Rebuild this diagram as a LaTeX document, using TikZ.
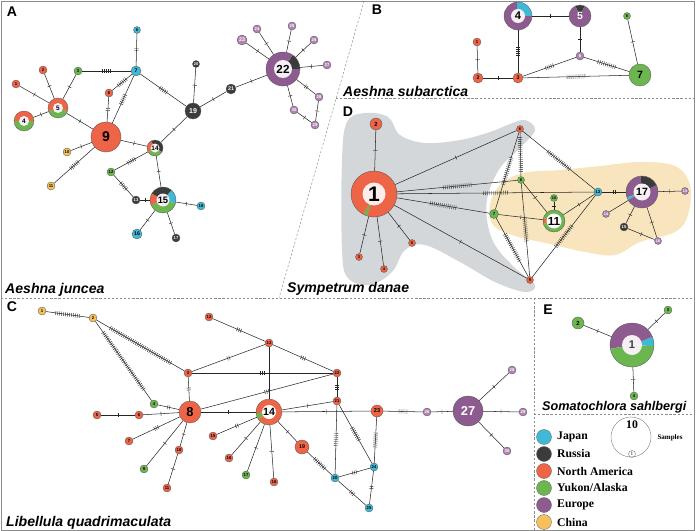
\documentclass[tikz,border=0pt]{standalone}
\usepackage{fontspec}
\setmainfont{Liberation Sans}
\newfontfamily\legfont{Liberation Serif}
\usetikzlibrary{decorations.markings,positioning}

\definecolor{japan}{HTML}{3FBAD6}
\definecolor{russia}{HTML}{3B3B3B}
\definecolor{namer}{HTML}{EE6446}
\definecolor{yukon}{HTML}{6BB64F}
\definecolor{europe}{HTML}{8E5B91}
\definecolor{eulight}{HTML}{B084B1}
\definecolor{china}{HTML}{F6C15A}
\definecolor{blobgray}{HTML}{D4D7D9}
\definecolor{blobsand}{HTML}{F8E5BD}
\definecolor{innerlt}{HTML}{F6F0F4}

\tikzset{
  hap/.style={circle,draw=black!65,line width=0.3pt,inner sep=0pt,minimum size=#1*0.06cm},
  hs/.style={hap=4,fs=3.6},
  fs/.style={font=\fontsize{#1}{#1}\selectfont\bfseries},
  ring/.style={circle,fill=innerlt,inner sep=0pt,minimum size=#1*0.06cm},
  mut/.style={postaction={decorate,decoration={markings,mark=at position 0.5 with {%
      \foreach \k in {1,...,#1}{\draw[black!85,line width=0.35pt] ({(\k-(#1+1)/2)*1.7pt},-1.8pt) -- ++(0,3.6pt);}}}}},
  ttl/.style={font=\fontsize{12}{12}\selectfont\bfseries\itshape,anchor=west,inner sep=0pt},
  panel/.style={font=\fontsize{12}{12}\selectfont\bfseries,inner sep=0pt},
  divider/.style={draw=black!45,line width=0.4pt,dash pattern=on 2pt off 1.5pt},
  legdot/.style={circle,draw=black!60,line width=0.3pt,minimum size=15*0.03cm,inner sep=0pt},
  legtxt/.style={font=\legfont\fontsize{10}{10}\selectfont\bfseries,inner sep=0pt},
}

% pie node: name, position, radius (px), slices a/b/colour, label style, label
\newcommand{\pienode}[6]{%
  \foreach \a/\b/\c in {#4}{\fill[fill=\c] #2 -- ++(\a:#3) arc[start angle=\a,end angle=\b,radius=#3] -- cycle;}
  \node[hap=#3] (#1) at #2 {};
  \node[#5] at #2 {#6};
}

\begin{document}
\begin{tikzpicture}[x=0.03cm,y=0.03cm,
                    every edge/.style={draw=black!85,line width=0.45pt}]
  \useasboundingbox (0,0) rectangle (696,-531);

  % frame and dividers
  \draw[black!45,line width=0.8pt] (1,-1) rectangle (694,-530);
  \draw[divider] (364,-1) -- (279,-298);
  \draw[divider] (336,-98) -- (694,-98);
  \draw[divider] (1,-298) -- (694,-298);
  \draw[divider] (534,-298) -- (534,-530);
  \draw[divider] (534,-414) -- (694,-414);

  % blobs of panel D
  \fill[blobgray] plot[smooth cycle,tension=0.6] coordinates {(347,-122) (365,-113) (388,-117) (400,-135) (425,-143) (460,-140) (490,-132) (510,-124) (525,-120) (535,-130) (520,-148) (500,-168) (488,-195) (487,-220) (495,-245) (515,-268) (535,-285) (525,-292) (495,-282) (460,-262) (425,-245) (405,-250) (392,-272) (370,-285) (348,-278) (342,-250) (342,-160)};
  \fill[blobsand] plot[smooth cycle,tension=0.6] coordinates {(490,-205) (500,-185) (523,-173) (560,-170) (600,-166) (640,-162) (675,-166) (690,-185) (688,-215) (675,-232) (640,-242) (615,-255) (585,-252) (550,-244) (515,-236) (493,-225)};

  % panel letters and titles
  \node[panel] at (12,-12) {A};
  \node[panel] at (377,-10) {B};
  \node[panel] at (348,-112) {D};
  \node[panel] at (12,-307) {C};
  \node[panel] at (548,-310) {E};
  \node[ttl] at (5,-290) {Aeshna juncea};
  \node[ttl] at (343,-91) {Aeshna subarctica};
  \node[ttl] at (287,-289) {Sympetrum danae};
  \node[ttl] at (6,-523) {Libellula quadrimaculata};
  \node[ttl,font=\fontsize{10.8}{10.8}\selectfont\bfseries\itshape] at (542,-407) {Somatochlora sahlbergi};

  % panel A
  \node[hs,fill=namer] (A1) at (16,-84) {1};
  \node[hs,fill=namer] (A2) at (43,-70) {2};
  \node[hs,fill=yukon] (A3) at (78,-71) {3};
  \pienode{A4}{(24,-121)}{10}{0/180/namer,180/360/yukon}{ring=5,fs=5.5}{4}
  \pienode{A5}{(58,-108)}{10}{-20/200/namer,200/340/yukon}{ring=5,fs=5.5}{5}
  \node[hs,fill=namer] (A6) at (109,-93) {6};
  \node[hap=5,fill=japan,fs=4.5] (A7) at (136,-71) {7};
  \node[hap=3.5,fill=japan,fs=3.4] (A8) at (137,-30) {8};
  \node[hap=15,fill=namer,fs=12] (A9) at (106,-137) {9};
  \node[hs,fill=china] (A10) at (67,-152) {10};
  \node[hs,fill=china] (A11) at (51,-186) {11};
  \node[hs,fill=yukon] (A12) at (111,-172) {12};
  \node[hs,fill=russia,text=white] (A13) at (136,-200) {13};
  \pienode{A14}{(155,-148)}{8}{-30/120/russia,120/210/namer,210/330/yukon}{ring=4.5,fs=5.5}{14}
  \pienode{A15}{(163,-200)}{13}{-15/50/japan,50/150/russia,150/205/namer,205/345/yukon}{ring=6.5,fs=8}{15}
  \node[hap=5,fill=japan,fs=4.5] (A16) at (137,-234) {16};
  \node[hs,fill=russia,text=white] (A17) at (176,-238) {17};
  \node[hs,fill=japan] (A18) at (201,-206) {18};
  \node[hap=8,fill=russia,text=white,fs=6] (A19) at (193,-111) {19};
  \node[hap=3.5,fill=russia,text=white,fs=3.4] (A20) at (196,-64) {20};
  \node[hap=5,fill=russia,text=white,fs=4.5] (A21) at (231,-89) {21};
  \pienode{A22}{(283,-69)}{17}{0/55/russia,55/360/europe}{ring=9,fs=10}{22}
  \node[hap=5,fill=eulight,text=white,fs=4.5] (A23) at (242,-40) {23};
  \node[hs,fill=eulight,text=white] (A24) at (257,-29) {24};
  \node[hs,fill=eulight,text=white] (A25) at (292,-26) {25};
  \node[hs,fill=eulight,text=white] (A26) at (314,-40) {26};
  \node[hs,fill=eulight,text=white] (A27) at (327,-65) {27};
  \node[hs,fill=eulight,text=white] (A28) at (319,-97) {28};
  \node[hs,fill=eulight,text=white] (A29) at (315,-125) {29};
  \node[hs,fill=eulight,text=white] (A30) at (294,-110) {30};

  \path (A7) edge[mut=2] (A8) edge[mut=5] (A3) edge[mut=6] (A6) edge[mut=6] (A9) edge[mut=5] (A19);
  \path (A5) edge[mut=1] (A1) edge[mut=1] (A2) edge[mut=1] (A3) edge[mut=1] (A4) edge[mut=1] (A9);
  \path (A9) edge[mut=2] (A6) edge[mut=1] (A10) edge[mut=6] (A11) edge[mut=1] (A14);
  \path (A14) edge[mut=1] (A19) edge[mut=5] (A12) edge[mut=1] (A15);
  \path (A12) edge[mut=5] (A13);
  \path (A15) edge[mut=1] (A13) edge[mut=1] (A16) edge[mut=1] (A17) edge[mut=1] (A18);
  \path (A19) edge[mut=1] (A20) edge[mut=1] (A21);
  \path (A22) edge[mut=1] (A21) edge[mut=1] (A23) edge[mut=1] (A24) edge[mut=1] (A25)
              edge[mut=1] (A26) edge[mut=1] (A27) edge[mut=2] (A28) edge[mut=1] (A30);
  \path (A29) edge[mut=1] (A28) edge[mut=1] (A30);

  % panel B
  \node[hs,fill=namer] (B1) at (477,-42) {1};
  \node[hap=5,fill=namer,fs=4.5] (B2) at (478,-78) {2};
  \node[hap=5,fill=namer,fs=4.5] (B3) at (518,-78) {3};
  \pienode{B4}{(518,-16)}{14}{0/95/japan,95/360/europe}{ring=7,fs=9.5}{4}
  \pienode{B5}{(580,-16)}{11}{65/115/russia,115/425/europe}{fs=9,text=white}{5}
  \node[hs,fill=eulight,text=white] (B6) at (580,-56) {6};
  \node[hap=11,fill=yukon,fs=9] (B7) at (640,-75) {7};
  \node[hap=3.5,fill=yukon,fs=3.4] (B8) at (627,-16) {8};

  \path (B4) edge[mut=1] (B5) edge[mut=5] (B3);
  \path (B2) edge[mut=1] (B1) edge[mut=1] (B3);
  \path (B6) edge[mut=1] (B5) edge[mut=5] (B3) edge[mut=10] (B7);
  \path (B7) edge[mut=10] (B3) edge[mut=1] (B8);

  % panel D
  \pienode{D1}{(374,-194)}{23}{243/253/yukon,253/603/namer}{ring=11.5,fill=namer!12,fs=18}{1}
  \node[hap=6,fill=namer,fs=5] (D2) at (376,-124) {2};
  \node[hap=3.5,fill=namer,fs=3.4] (D3) at (359,-257) {3};
  \node[hap=3.5,fill=namer,fs=3.4] (D4) at (384,-269) {4};
  \node[hap=3.5,fill=namer,fs=3.4] (D5) at (412,-243) {5};
  \node[hap=3.5,fill=namer,fs=3.4] (D6) at (520,-129) {6};
  \node[hap=4.5,fill=yukon,fs=3.8] (D7) at (494,-214) {7};
  \node[hap=3.5,fill=yukon,fs=3.4] (D8) at (521,-180) {8};
  \node[hap=3.5,fill=namer,fs=3.4] (D9) at (530,-280) {9};
  \node[hap=3.5,fill=yukon,fs=3.2] (D10) at (554,-198) {10};
  \pienode{D11}{(554,-221)}{11}{165/195/namer,195/525/yukon}{ring=7.5,fill=white,fs=10}{11}
  \node[hs,fill=japan] (D12) at (598,-192) {12};
  \node[hap=3.5,fill=eulight,text=white,fs=3.2] (D13) at (685,-191) {13};
  \node[hap=3.5,fill=eulight,text=white,fs=3.2] (D14) at (606,-214) {14};
  \node[hs,fill=russia,text=white] (D15) at (624,-227) {15};
  \node[hap=3.5,fill=eulight,text=white,fs=3.2] (D16) at (658,-241) {16};
  \pienode{D17}{(642,-192)}{16}{25/95/russia,95/200/europe,200/210/japan,210/385/europe}{ring=8.5,fs=9}{17}

  \path (D1) edge[mut=1] (D2) edge[mut=1] (D3) edge[mut=1] (D4) edge[mut=1] (D5)
             edge[mut=1] (D6) edge[mut=15] (D8) edge[mut=13] (D12) edge[mut=14] (D7) edge[mut=1] (D9);
  \path (D6) edge[mut=18] (D8) edge[mut=15] (D7) edge[mut=15] (D12);
  \path (D9) edge[mut=12] (D8) edge[mut=16] (D7) edge[mut=14] (D12);
  \path (D11) edge[mut=1] (D8) edge[mut=1] (D7) edge[mut=1] (D10) edge[mut=1] (D12);
  \path (D17) edge[mut=2] (D12) edge[mut=1] (D13) edge (D14) edge[mut=1] (D15) edge[mut=1] (D16);
  \path (D15) edge[mut=1] (D16);

  % panel C
  \node[hs,fill=china] (C1) at (42,-311) {1};
  \node[hs,fill=china] (C2) at (93,-318) {2};
  \node[hs,fill=namer] (C3) at (188,-373) {3};
  \node[hs,fill=yukon] (C4) at (154,-404) {4};
  \node[hs,fill=namer] (C5) at (97,-415) {5};
  \node[hs,fill=namer] (C6) at (139,-415) {6};
  \node[hs,fill=namer] (C7) at (129,-441) {7};
  \node[hap=11,fill=namer,fs=11] (C8) at (190,-412) {8};
  \node[hs,fill=yukon] (C9) at (144,-469) {9};
  \node[hs,fill=namer] (C10) at (179,-450) {10};
  \node[hs,fill=namer] (C11) at (167,-488) {11};
  \node[hs,fill=namer] (C12) at (209,-317) {12};
  \node[hs,fill=namer] (C13) at (269,-343) {13};
  \pienode{C14}{(269,-412)}{13}{185/215/yukon,215/545/namer}{ring=7,fill=white,fs=9}{14}
  \node[hs,fill=namer] (C15) at (213,-436) {15};
  \node[hs,fill=namer] (C16) at (229,-458) {16};
  \node[hs,fill=yukon] (C17) at (246,-475) {17};
  \node[hs,fill=namer] (C18) at (274,-482) {18};
  \node[hap=7,fill=namer,fs=4.5] (C19) at (302,-447) {19};
  \node[hs,fill=japan] (C20) at (335,-478) {20};
  \node[hs,fill=namer] (C21) at (337,-401) {21};
  \node[hs,fill=namer] (C22) at (337,-373) {22};
  \node[hap=6,fill=namer,fs=4.8] (C23) at (377,-411) {23};
  \node[hs,fill=japan] (C24) at (374,-467) {24};
  \node[hs,fill=japan] (C25) at (369,-508) {25};
  \node[hs,fill=eulight,text=white] (C26) at (427,-412) {26};
  \node[hap=15,fill=europe,text=white,fs=11] (C27) at (468,-411) {27};
  \node[hs,fill=eulight,text=white] (C28) at (512,-370) {28};
  \node[hs,fill=eulight,text=white] (C29) at (523,-412) {29};
  \node[hs,fill=eulight,text=white] (C30) at (507,-451) {30};

  \path (C2) edge[mut=13] (C1) edge[mut=36] (C3) edge[mut=36] (C4);
  \path (C8) edge[mut=2] (C3) edge[mut=2] (C4) edge[mut=1] (C6) edge[mut=3] (C7)
             edge[mut=1] (C9) edge[mut=1] (C10) edge[mut=1] (C14) edge[mut=3] (C22);
  \path (C6) edge[mut=1] (C5);
  \path (C10) edge[mut=1] (C11);
  \path (C13) edge[mut=2] (C3) edge[mut=3] (C12) edge (C14) edge[mut=3] (C22);
  \path (C3) edge[mut=3] (C22);
  \path (C14) edge[mut=2] (C15) edge[mut=1] (C16) edge[mut=1] (C17) edge[mut=1] (C18)
              edge[mut=1] (C19) edge[mut=1] (C21) edge[mut=1] (C23);
  \path (C21) edge[mut=3] (C22) edge[mut=7] (C20) edge[mut=8] (C24);
  \path (C20) edge[mut=8] (C19) edge[mut=3] (C24) edge[mut=3] (C25);
  \path (C24) edge[mut=8] (C23) edge[mut=2] (C25);
  \path (C26) edge[mut=5] (C23) edge[mut=1] (C27);
  \path (C27) edge[mut=1] (C28) edge[mut=1] (C29) edge[mut=1] (C30);

  % panel E
  \pienode{E1}{(632,-345)}{22}{-3/22/japan,22/190/europe,190/357/yukon}{ring=10,fs=9.5,text=black!75}{1}
  \node[hap=6,fill=yukon,fs=5] (E2) at (578,-323) {2};
  \node[hs,fill=yukon] (E3) at (668,-310) {3};
  \node[hs,fill=yukon] (E4) at (634,-396) {4};
  \path (E1) edge[mut=1] (E2) edge[mut=1] (E3) edge[mut=1] (E4);

  % legend
  \node[legdot,fill=japan] (lgJap) at (544,-437) {};
  \node[legdot,fill=russia] (lgRus) at (544,-454) {};
  \node[legdot,fill=namer] (lgNam) at (544,-471) {};
  \node[legdot,fill=yukon] (lgYuk) at (544,-488) {};
  \node[legdot,fill=europe] (lgEur) at (544,-505) {};
  \node[legdot,fill=china] (lgChi) at (544,-522) {};
  \node[legtxt,right=4.5pt of lgJap] {Japan};
  \node[legtxt,right=4.5pt of lgRus] {Russia};
  \node[legtxt,right=4.5pt of lgNam] {North America};
  \node[legtxt,right=4.5pt of lgYuk] {Yukon/Alaska};
  \node[legtxt,right=4.5pt of lgEur] {Europe};
  \node[legtxt,right=4.5pt of lgChi] {China};

  \node[circle,draw=black!55,line width=0.3pt,minimum size=40*0.03cm] (smp) at (631,-437) {};
  \node[legtxt] (smp10) at (632,-425) {10};
  \node[circle,draw=black!60,line width=0.3pt,inner sep=0pt,minimum size=7*0.03cm,
        font=\legfont\fontsize{4.5}{4.5}\selectfont] (smp1) at (632,-454) {1};
  \node[legtxt,font=\legfont\fontsize{6}{6}\selectfont\bfseries] (smptxt) at (670,-438) {Samples};
\end{tikzpicture}
\end{document}
